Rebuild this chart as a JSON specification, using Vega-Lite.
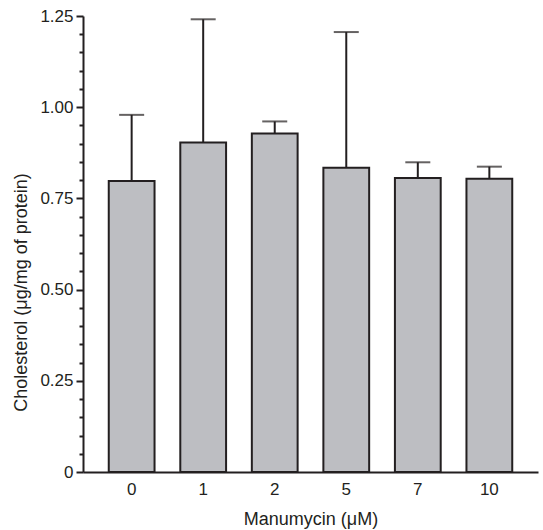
{
  "$schema": "https://vega.github.io/schema/vega-lite/v6.json",
  "width": 455,
  "height": 456,
  "autosize": {"type": "none"},
  "padding": {"left": 83, "top": 16, "right": 5, "bottom": 58},
  "background": "white",
  "config": {
    "view": {"stroke": null},
    "font": "Liberation Sans",
    "axis": {"labelFont": "Liberation Sans", "titleFont": "Liberation Sans", "labelColor": "#231f20", "titleColor": "#231f20", "domainColor": "#231f20", "labelFontSize": 17, "titleFontSize": 18, "titleFontWeight": "normal", "grid": false}
  },
  "data": {
    "values": [
      {"dose": "0", "mean": 0.798, "upper": 0.979},
      {"dose": "1", "mean": 0.903, "upper": 1.241},
      {"dose": "2", "mean": 0.928, "upper": 0.961},
      {"dose": "5", "mean": 0.834, "upper": 1.206},
      {"dose": "7", "mean": 0.806, "upper": 0.849},
      {"dose": "10", "mean": 0.804, "upper": 0.837}
    ]
  },
  "resolve": {"axis": {"y": "independent"}},
  "encoding": {
    "x": {
      "field": "dose",
      "type": "nominal",
      "sort": ["0", "1", "2", "5", "7", "10"],
      "scale": {"paddingInner": 0.36, "paddingOuter": 0.36},
      "axis": {
        "title": "Manumycin (μM)",
        "labelAngle": 0,
        "ticks": false,
        "labelPadding": 9,
        "labelFontSize": 17,
        "titleFontSize": 18,
        "domainWidth": 2,
        "titleBaseline": "alphabetic",
        "titleY": 52
      }
    }
  },
  "layer": [
    {
      "mark": {"type": "rule", "color": "#231f20", "strokeWidth": 2},
      "encoding": {
        "y": {
          "field": "mean",
          "type": "quantitative",
          "axis": {
            "orient": "left",
            "values": [0.05, 0.1, 0.15, 0.2, 0.3, 0.35, 0.4, 0.45, 0.55, 0.6, 0.65, 0.7, 0.8, 0.85, 0.9, 0.95, 1.05, 1.1, 1.15, 1.2],
            "labels": false,
            "domain": false,
            "title": null,
            "ticks": true,
            "tickSize": 4,
            "tickWidth": 2,
            "tickColor": "#231f20",
            "tickOpacity": 1
          }
        },
        "y2": {"field": "upper"}
      }
    },
    {
      "mark": {"type": "tick", "color": "#231f20", "thickness": 2, "size": 25},
      "encoding": {
        "y": {"field": "upper", "type": "quantitative", "axis": null}
      }
    },
    {
      "mark": {"type": "bar", "fill": "#bdbec2", "stroke": "#231f20", "strokeWidth": 2},
      "encoding": {
        "y": {
          "field": "mean",
          "type": "quantitative",
          "scale": {"domain": [0, 1.25], "nice": false, "zero": true},
          "axis": {
            "orient": "left",
            "title": "Cholesterol (μg/mg of protein)",
            "values": [0, 0.25, 0.5, 0.75, 1.0, 1.25],
            "labelExpr": "datum.value == 0 ? '0' : format(datum.value, '.2f')",
            "labelOverlap": false,
            "labelFontSize": 17,
            "titleFontSize": 18,
            "ticks": true,
            "tickSize": 7,
            "tickWidth": 2,
            "tickColor": "#231f20",
            "tickOpacity": 1,
            "domainWidth": 2,
            "labelPadding": 3,
            "titleBaseline": "middle",
            "titleX": -62,
            "titleY": 276,
            "titleAngle": -90
          }
        }
      }
    }
  ]
}
